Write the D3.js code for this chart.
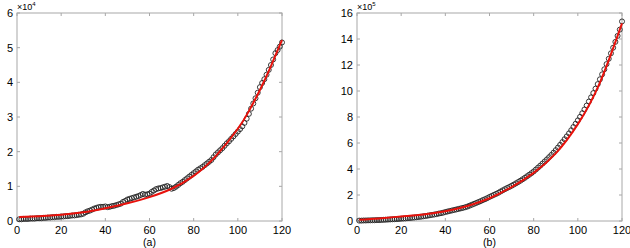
<!DOCTYPE html>
<html>
<head>
<meta charset="utf-8">
<script src="https://cdn.jsdelivr.net/npm/d3@7"></script>
<style>
  body { margin: 0; background: #fff; }
  text { font-family: "Liberation Sans", Arial, sans-serif; fill: #000; }
</style>
</head>
<body>
<div id="chart"></div>
<script>
const xTicks = [0, 20, 40, 60, 80, 100, 120];

// panel (a), x10^4
const aTicks = [0, 1, 2, 3, 4, 5, 6];
const aPoints = [
  0.05,0.05,0.06,0.06,0.06,0.07,0.07,0.07,0.08,0.08,
  0.08,0.09,0.09,0.10,0.10,0.11,0.11,0.12,0.12,0.13,
  0.13,0.14,0.14,0.15,0.16,0.16,0.17,0.18,0.19,0.21,
  0.25,0.28,0.30,0.33,0.36,0.38,0.40,0.41,0.41,0.42,
  0.40,0.41,0.43,0.44,0.46,0.48,0.50,0.55,0.58,0.62,
  0.64,0.66,0.68,0.70,0.72,0.75,0.78,0.76,0.77,0.79,
  0.84,0.88,0.92,0.94,0.95,0.97,0.99,1.01,0.98,0.93,
  0.95,0.99,1.04,1.09,1.13,1.18,1.23,1.28,1.33,1.38,
  1.43,1.48,1.52,1.56,1.61,1.66,1.71,1.76,1.84,1.92,
  1.98,2.04,2.10,2.17,2.24,2.30,2.37,2.44,2.51,2.58,
  2.65,2.73,2.83,2.95,3.09,3.24,3.39,3.54,3.70,3.86,
  3.98,4.09,4.22,4.36,4.50,4.66,4.84,4.93,5.03,5.15
];
const aFitX = [1, 10, 20, 30, 40, 50, 60, 70, 80, 90, 100, 105, 110, 115, 120];
const aFitY = [0.115, 0.14, 0.18, 0.25, 0.37, 0.51, 0.69, 0.93, 1.30, 1.87, 2.66, 3.17, 3.78, 4.47, 5.22];

// panel (b), x10^5
const bTicks = [0, 2, 4, 6, 8, 10, 12, 14, 16];
const bPoints = [
  0.03,0.03,0.04,0.04,0.05,0.05,0.06,0.06,0.07,0.07,
  0.08,0.09,0.10,0.11,0.12,0.13,0.14,0.15,0.16,0.18,
  0.19,0.20,0.22,0.23,0.25,0.27,0.29,0.31,0.33,0.36,
  0.38,0.41,0.44,0.47,0.50,0.53,0.57,0.60,0.64,0.69,
  0.73,0.77,0.81,0.85,0.89,0.93,0.97,1.01,1.06,1.11,
  1.18,1.25,1.32,1.39,1.46,1.53,1.61,1.68,1.76,1.85,
  1.93,2.01,2.09,2.17,2.27,2.36,2.45,2.54,2.62,2.71,
  2.80,2.90,3.00,3.10,3.21,3.32,3.44,3.56,3.68,3.81,
  3.96,4.11,4.26,4.42,4.58,4.74,4.91,5.08,5.26,5.45,
  5.65,5.86,6.07,6.29,6.51,6.74,6.98,7.23,7.48,7.74,
  8.01,8.29,8.58,8.88,9.19,9.51,9.84,10.18,10.53,10.90,
  11.28,11.67,12.07,12.48,12.90,13.33,13.78,14.24,14.72,15.35
];
const bFitX = [1, 10, 20, 30, 40, 50, 60, 70, 80, 90, 100, 110, 120];
const bFitY = [0.10, 0.2, 0.35, 0.5, 0.75, 1.15, 1.75, 2.6, 3.7, 5.2, 7.45, 10.65, 15.2];

const svg = d3.select("#chart").append("svg")
  .attr("width", 630)
  .attr("height", 248);

const axisColor = "#a8a8a8";

function drawPanel(opt) {
  const { left, right, top, bottom } = opt;
  const x = d3.scaleLinear().domain([0, 120]).range([left, right]);
  const y = d3.scaleLinear().domain([0, opt.yMax]).range([bottom, top]);
  const g = svg.append("g");

  // ticks inside the box, all four sides
  const tickLen = 3;
  g.selectAll(".xt").data(xTicks).enter().append("path")
    .attr("d", d => `M${x(d)},${bottom}v${-tickLen}M${x(d)},${top}v${tickLen}`)
    .attr("stroke", axisColor).attr("stroke-width", 1);
  g.selectAll(".yt").data(opt.yTicks).enter().append("path")
    .attr("d", d => `M${left},${y(d)}h${tickLen}M${right},${y(d)}h${-tickLen}`)
    .attr("stroke", axisColor).attr("stroke-width", 1);

  g.append("rect")
    .attr("x", left).attr("y", top)
    .attr("width", right - left).attr("height", bottom - top)
    .attr("fill", "none").attr("stroke", axisColor).attr("stroke-width", 1);

  g.selectAll(".xl").data(xTicks).enter().append("text")
    .attr("x", d => x(d)).attr("y", bottom + 13)
    .attr("text-anchor", "middle").attr("font-size", 11)
    .text(d => d);
  g.selectAll(".yl").data(opt.yTicks).enter().append("text")
    .attr("x", left - 4).attr("y", d => y(d) + 4)
    .attr("text-anchor", "end").attr("font-size", 11)
    .text(d => d);

  const exp = g.append("text")
    .attr("x", left).attr("y", top - 3).attr("font-size", 9);
  exp.append("tspan").text("\u00d710");
  exp.append("tspan").attr("font-size", 6).attr("dy", -4).text(opt.exp);

  g.append("text")
    .attr("x", (left + right) / 2).attr("y", bottom + 25)
    .attr("text-anchor", "middle").attr("font-size", 10.5)
    .text(opt.label);

  g.selectAll("circle").data(opt.points).enter().append("circle")
    .attr("cx", (d, i) => x(i + 1))
    .attr("cy", d => y(d))
    .attr("r", 2.5)
    .attr("fill", "none")
    .attr("stroke", "#222")
    .attr("stroke-width", 0.9);

  const line = d3.line()
    .x(d => x(d[0])).y(d => y(d[1]))
    .curve(d3.curveNatural);
  g.append("path")
    .datum(opt.fitX.map((v, i) => [v, opt.fitY[i]]))
    .attr("d", line)
    .attr("fill", "none")
    .attr("stroke", "#e8120c")
    .attr("stroke-width", 2);
}

drawPanel({ left: 17, right: 282, top: 13, bottom: 221, yMax: 6, yTicks: aTicks,
  points: aPoints, fitX: aFitX, fitY: aFitY, exp: "4", label: "(a)" });
drawPanel({ left: 357, right: 622, top: 13, bottom: 221, yMax: 16, yTicks: bTicks,
  points: bPoints, fitX: bFitX, fitY: bFitY, exp: "5", label: "(b)" });
</script>
</body>
</html>
